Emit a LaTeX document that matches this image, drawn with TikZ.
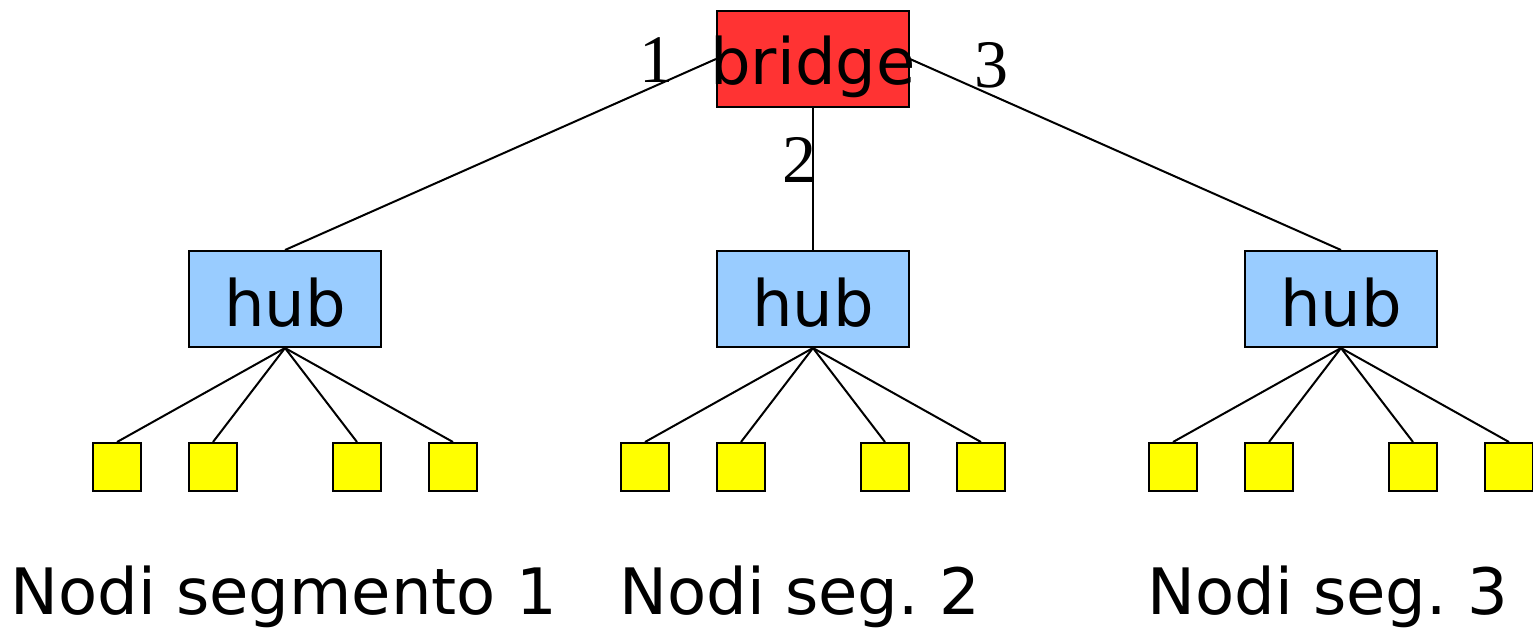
\documentclass[tikz,border=0pt]{standalone}
\usepackage{fontspec}
\setmainfont{DejaVu Sans}
\newfontfamily\numfont{Liberation Serif}
\definecolor{bridgered}{HTML}{FF3333}
\definecolor{hubblue}{HTML}{99CCFF}
\definecolor{leafyellow}{HTML}{FFFF00}
\frenchspacing
\begin{document}
\begin{tikzpicture}[x=0.5pt,y=-0.5pt,
  box/.style={draw=black, line width=1pt, inner sep=0pt, rectangle},
  bridgebox/.style={box, fill=bridgered, minimum width=96pt, minimum height=48pt},
  hubbox/.style={box, fill=hubblue, minimum width=96pt, minimum height=48pt},
  leafbox/.style={box, fill=leafyellow, minimum width=24pt, minimum height=24pt},
  boxtext/.style={inner sep=0pt, anchor=base, font=\fontsize{32}{38}\selectfont},
  caption/.style={inner sep=0pt, anchor=base west, font=\fontsize{32}{38}\selectfont},
  portnum/.style={inner sep=0pt, anchor=base, font=\numfont\fontsize{34}{40}\selectfont},
  link/.style={line width=1pt}]
\useasboundingbox (0,0) rectangle (1533,629);

% bridge
\node[bridgebox] (bridge) at (813,59) {};
\node[boxtext] (bridgelbl) at (813,84) {bridge};

% hubs with their four stations each
\foreach \i/\x in {1/285, 2/813, 3/1341} {
  \node[hubbox] (hub\i) at (\x,299) {};
  \node[boxtext] (hublbl\i) at (\x,326) {hub};
  \foreach \j/\dx in {1/-168, 2/-72, 3/72, 4/168} {
    \node[leafbox] (leaf\i\j) at (\x+\dx,467) {};
    \draw[link] (hub\i.south) -- (leaf\i\j.north);
  }
}

% bridge ports
\draw[link] (bridge.west) -- (hub1.north);
\draw[link] (bridge.south) -- (hub2.north);
\draw[link] (bridge.east) -- (hub3.north);
\node[portnum] (p1) at (656,82) {1};
\node[portnum] (p2) at (799,182) {2};
\node[portnum] (p3) at (991,87) {3};

% segment captions
\node[caption] (seg1) at (10,614) {Nodi segmento 1};
\node[caption] (seg2) at (619,614) {Nodi seg. 2};
\node[caption] (seg3) at (1147,614) {Nodi seg. 3};
\end{tikzpicture}
\end{document}
